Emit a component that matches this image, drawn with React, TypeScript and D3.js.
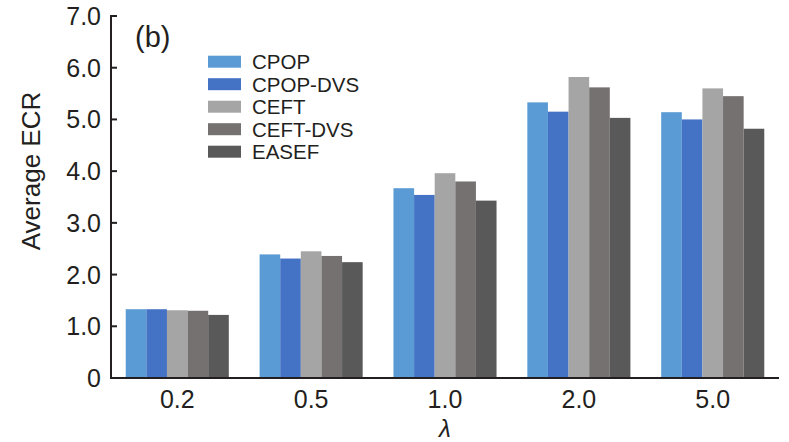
import * as d3 from 'd3';
import React from 'react';

// λ values on the x axis
const lambdas = ['0.2', '0.5', '1.0', '2.0', '5.0'];
const series = ['CPOP', 'CPOP-DVS', 'CEFT', 'CEFT-DVS', 'EASEF'];
const colors = ['#5b9bd5', '#4472c4', '#a5a5a5', '#767171', '#595959'];

// Average ECR, one array per algorithm
const cpop = [1.33, 2.39, 3.67, 5.33, 5.14];
const cpopDvs = [1.33, 2.31, 3.54, 5.15, 5.0];
const ceft = [1.31, 2.45, 3.96, 5.82, 5.6];
const ceftDvs = [1.3, 2.36, 3.8, 5.62, 5.45];
const easef = [1.22, 2.24, 3.43, 5.03, 4.82];

const yTicks = [0, 1, 2, 3, 4, 5, 6, 7];

const values = [cpop, cpopDvs, ceft, ceftDvs, easef];

const W = 789;
const H = 442;
const left = 111;
const right = 779;
const top = 16;
const bottom = 378;
const ink = '#231f20';
const font = '"Liberation Sans", Arial, sans-serif';

export default function App() {
  const x = d3
    .scaleBand()
    .domain(lambdas)
    .range([left, right])
    .paddingInner(0.23)
    .paddingOuter(0.11);

  const xInner = d3
    .scaleBand()
    .domain(series)
    .range([0, x.bandwidth()]);

  const y = d3.scaleLinear().domain([0, 7]).range([bottom, top]);

  const color = d3.scaleOrdinal<string, string>().domain(series).range(colors);

  return (
    <svg
      width={W}
      height={H}
      style={{ position: 'absolute', left: 0, top: 0, background: '#fff' }}
      fontFamily={font}
    >
      {/* bars */}
      {lambdas.map((l, i) => (
        <g key={l} transform={`translate(${x(l)},0)`}>
          {series.map((s, j) => (
            <rect
              key={s}
              x={xInner(s)}
              y={y(values[j][i])}
              width={xInner.bandwidth()}
              height={y(0) - y(values[j][i])}
              fill={color(s)}
            />
          ))}
        </g>
      ))}

      {/* y axis */}
      <line x1={left} x2={left} y1={top - 1} y2={bottom + 1} stroke={ink} strokeWidth={2} />
      {yTicks.map((t) => (
        <g key={t}>
          <line x1={left} x2={left + 6} y1={y(t)} y2={y(t)} stroke={ink} strokeWidth={2} />
          <text
            x={left - 10}
            y={y(t)}
            dy="0.36em"
            textAnchor="end"
            fontSize={25}
            fill={ink}
          >
            {t === 0 ? '0' : t.toFixed(1)}
          </text>
        </g>
      ))}

      {/* x axis */}
      <line x1={left - 1} x2={right} y1={bottom} y2={bottom} stroke={ink} strokeWidth={2} />
      {lambdas.map((l) => (
        <text
          key={l}
          x={(x(l) ?? 0) + x.bandwidth() / 2}
          y={408}
          textAnchor="middle"
          fontSize={25}
          fill={ink}
        >
          {l}
        </text>
      ))}
      <text
        x={(left + right) / 2}
        y={437}
        textAnchor="middle"
        fontSize={24}
        fontStyle="italic"
        fill={ink}
      >
        λ
      </text>

      {/* y label */}
      <text
        transform={`translate(40,${(top + bottom) / 2 - 26}) rotate(-90)`}
        textAnchor="middle"
        fontSize={26}
        fill={ink}
      >
        Average ECR
      </text>

      {/* panel tag */}
      <text x={135} y={47} fontSize={29} fill={ink}>
        (b)
      </text>

      {/* legend */}
      {series.map((s, j) => (
        <g key={s} transform={`translate(208,${61.7 + j * 22.5})`}>
          <rect x={0} y={-6} width={33} height={12} fill={color(s)} />
          <text x={44} y={0} dy="0.36em" fontSize={20.5} fill={ink}>
            {s}
          </text>
        </g>
      ))}
    </svg>
  );
}
